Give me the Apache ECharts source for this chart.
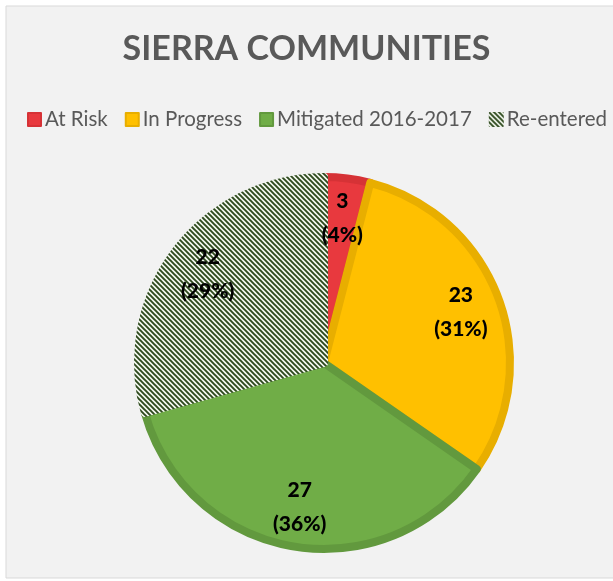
<!DOCTYPE html>
<html>
<head>
<meta charset="utf-8">
<script src="https://cdn.jsdelivr.net/npm/echarts@6/dist/echarts.min.js"></script>
<style>
  html, body { margin: 0; padding: 0; background: #fff; }
  #chart { width: 613px; height: 581px; }
</style>
</head>
<body>
<div id="chart"></div>
<script>
// 数据
const categories = ['At Risk', 'In Progress', 'Mitigated 2016-2017', 'Re-entered']
const values = [3, 23, 27, 22]
const fillColors = ['#E8393E', '#FFC000', '#70AD47', null]
const edgeColors = ['#D63236', '#E8AE00', '#62993E', null]

// 斜线填充图案
const makeHatch = () => {
  const c = document.createElement('canvas')
  c.width = 5
  c.height = 5
  const ctx = c.getContext('2d')
  ctx.fillStyle = '#F4F8F0'
  ctx.fillRect(0, 0, 5, 5)
  ctx.strokeStyle = '#2E4A1E'
  ctx.lineWidth = 1.9
  ctx.beginPath()
  ctx.moveTo(-3, -3); ctx.lineTo(8, 8)
  ctx.moveTo(-3, 2); ctx.lineTo(3, 8)
  ctx.moveTo(2, -3); ctx.lineTo(8, 3)
  ctx.stroke()
  return { image: c, repeat: 'repeat' }
}
const hatch = makeHatch()

const total = values.reduce((a, b) => a + b, 0)

const pieData = categories.map((name, i) => ({
  name,
  value: values[i],
  itemStyle: fillColors[i]
    ? { color: fillColors[i], borderColor: edgeColors[i], borderWidth: 8 }
    : { color: hatch, borderColor: hatch, borderWidth: 8 },
}))

const labelData = categories.map((name, i) => ({ name, value: values[i] }))

const chart = echarts.init(document.getElementById('chart'))
chart.setOption({
  animation: false,
  graphic: [
    {
      type: 'rect',
      shape: { x: 6, y: 6, width: 640, height: 572 },
      style: { fill: '#F2F2F2', stroke: '#D9D9D9', lineWidth: 1 },
      z: -10,
    },
  ],
  title: {
    text: 'SIERRA COMMUNITIES',
    left: 'center',
    top: 27,
    textStyle: { fontFamily: 'Lato', fontWeight: 'bold', fontSize: 34, color: '#595959' },
  },
  legend: {
    data: categories,
    top: 104,
    left: 22,
    itemWidth: 13,
    itemHeight: 13,
    itemGap: 17,
    icon: 'rect',
    textStyle: { fontFamily: 'Lato', fontSize: 20.5, color: '#595959', padding: [0, 0, 0, -1] },
  },
  series: [
    {
      type: 'pie',
      center: [324, 363],
      radius: [0, 186],
      startAngle: 90,
      clockwise: true,
      silent: true,
      label: { show: false },
      labelLine: { show: false },
      data: pieData,
    },
    {
      type: 'pie',
      center: [324, 363],
      radius: [96, 190],
      startAngle: 90,
      clockwise: true,
      silent: true,
      legendHoverLink: false,
      itemStyle: { color: 'rgba(0,0,0,0)' },
      label: {
        show: true,
        position: 'inside',
        fontFamily: 'Lato',
        fontWeight: 900,
        fontSize: 21,
        lineHeight: 34,
        color: '#000',
        textBorderWidth: 0,
        textBorderColor: 'transparent',
        formatter: (p) => `${p.value}\n(${Math.round((p.value / total) * 100)}%)`,
      },
      labelLine: { show: false },
      data: labelData,
    },
  ],
})
</script>
</body>
</html>
